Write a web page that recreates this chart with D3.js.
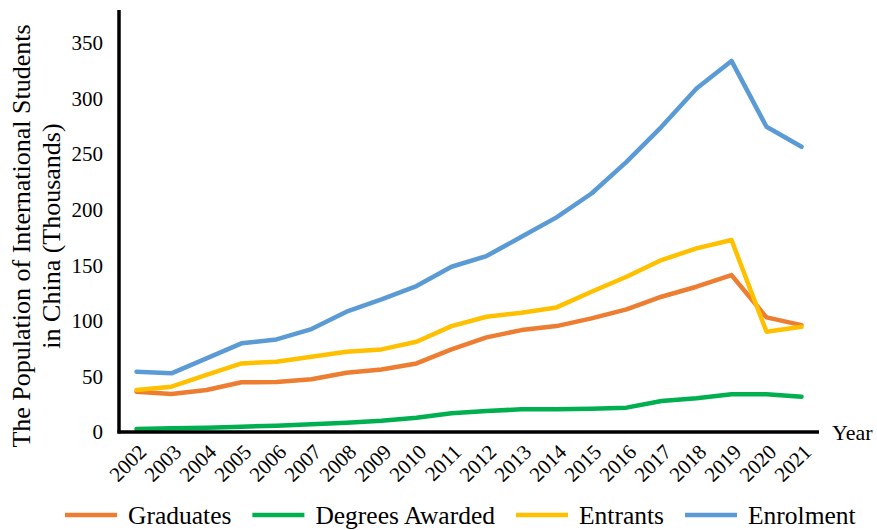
<!DOCTYPE html>
<html>
<head>
<meta charset="utf-8">
<script src="https://cdn.jsdelivr.net/npm/d3@7"></script>
<style>
  body { margin: 0; background: #fff; }
</style>
</head>
<body>
<div id="chart"></div>
<script>
var years = ["2002", "2003", "2004", "2005", "2006", "2007", "2008", "2009", "2010", "2011",
  "2012", "2013", "2014", "2015", "2016", "2017", "2018", "2019", "2020", "2021"];
var graduates = [36.3, 34.2, 37.8, 44.7, 45.0, 47.4, 53.3, 56.3, 61.7, 74.3,
  85.1, 91.7, 95.3, 102.2, 110.3, 121.7, 130.7, 141.2, 103.1, 96.2];
var degrees = [2.7, 3.3, 3.9, 4.8, 5.7, 6.9, 8.4, 10.2, 12.9, 16.8,
  18.9, 20.4, 20.4, 21.0, 21.9, 27.9, 30.3, 33.9, 33.9, 31.7];
var entrants = [37.8, 40.8, 51.3, 61.7, 63.2, 67.7, 72.2, 74.3, 81.2, 95.3,
  103.7, 107.3, 112.1, 126.2, 139.7, 154.7, 165.2, 172.7, 90.2, 94.7];
var enrolment = [54.2, 52.8, 66.3, 79.8, 83.3, 92.6, 108.2, 119.3, 131.3, 148.7,
  158.3, 175.6, 193.1, 214.6, 243.1, 274.6, 309.0, 333.9, 274.6, 256.6];
var yTicks = [0, 50, 100, 150, 200, 250, 300, 350];

var series = [
  {name: "Graduates", values: graduates, color: "#ED7D31"},
  {name: "Degrees Awarded", values: degrees, color: "#00B050"},
  {name: "Entrants", values: entrants, color: "#FFC000"},
  {name: "Enrolment", values: enrolment, color: "#5B9BD5"}
];

var W = 877, H = 530;
var margin = {left: 119, right: 58, top: 10, bottom: 98};
var serif = "'Liberation Serif', 'Times New Roman', Times, serif";

var svg = d3.select("#chart").append("svg")
  .attr("width", W).attr("height", H)
  .attr("font-family", serif);

var x = d3.scaleBand()
  .domain(years)
  .range([margin.left, W - margin.right]);

var y = d3.scaleLinear()
  .domain([0, 350])
  .range([H - margin.bottom, 43]);

// y tick labels (no tick marks)
svg.selectAll(".ytick")
  .data(yTicks)
  .enter().append("text")
  .attr("class", "ytick")
  .attr("x", 103)
  .attr("y", function(d) { return y(d); })
  .attr("dy", "0.35em")
  .attr("text-anchor", "end")
  .style("font-size", "21px")
  .text(function(d) { return d; });

// x tick labels
svg.selectAll(".xtick")
  .data(years)
  .enter().append("text")
  .attr("class", "xtick")
  .attr("transform", function(d) {
    return "translate(" + (x(d) + x.bandwidth() / 2 + 6) + "," + (y(0) + 16) + ") rotate(-45)";
  })
  .attr("text-anchor", "end")
  .attr("dy", "0.35em")
  .style("font-size", "21px")
  .text(function(d) { return d; });

// lines
var line = d3.line()
  .x(function(d, i) { return x(years[i]) + x.bandwidth() / 2; })
  .y(function(d) { return y(d); });

svg.selectAll(".series")
  .data(series)
  .enter().append("path")
  .attr("class", "series")
  .attr("fill", "none")
  .attr("stroke", function(d) { return d.color; })
  .attr("stroke-width", 4.5)
  .attr("stroke-linejoin", "round")
  .attr("stroke-linecap", "round")
  .attr("d", function(d) { return line(d.values); });

// axes lines
svg.append("line")
  .attr("x1", margin.left).attr("x2", margin.left)
  .attr("y1", 10).attr("y2", y(0) + 1.5)
  .attr("stroke", "#000").attr("stroke-width", 3.5);
svg.append("line")
  .attr("x1", margin.left - 1.5).attr("x2", W - margin.right)
  .attr("y1", y(0)).attr("y2", y(0))
  .attr("stroke", "#000").attr("stroke-width", 3.5);

svg.append("text")
  .attr("x", 832)
  .attr("y", y(0))
  .attr("dy", "0.35em")
  .style("font-size", "22px")
  .text("Year");

// y title
var yt = svg.append("text")
  .attr("transform", "translate(0," + 236 + ") rotate(-90)")
  .attr("text-anchor", "middle")
  .style("font-size", "26px");
yt.append("tspan").attr("x", 0).attr("y", 30).text("The Population of International Students");
yt.append("tspan").attr("x", 0).attr("y", 60).text("in China (Thousands)");

// legend
var lg = svg.append("g");
var lx = 65, ly = 515;
series.forEach(function(s) {
  lg.append("line")
    .attr("x1", lx).attr("x2", lx + 52)
    .attr("y1", ly).attr("y2", ly)
    .attr("stroke", s.color).attr("stroke-width", 4.5);
  var t = lg.append("text")
    .attr("x", lx + 63)
    .attr("y", ly)
    .attr("dy", "0.35em")
    .style("font-size", "25.5px")
    .text(s.name);
  lx = lx + 63 + t.node().getComputedTextLength() + 21;
});
</script>
</body>
</html>
